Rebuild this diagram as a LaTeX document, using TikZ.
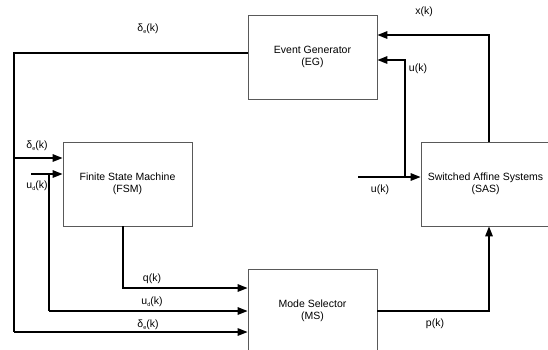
\documentclass[tikz,border=0pt]{standalone}
\usepackage{fontspec}
\setmainfont{Liberation Sans}
\usetikzlibrary{arrows.meta}
\newcommand{\tinysub}[1]{\raisebox{-1.8pt}{\fontsize{5.5}{5.5}\selectfont #1}}
\begin{document}
\begin{tikzpicture}[x=1pt,y=-1pt,
  blk/.style={draw=black!65,line width=0.8pt,minimum width=129pt,minimum height=84pt,align=center,font=\fontsize{10.5}{12.5}\selectfont,inner sep=0pt},
  conn/.style={line width=1.5pt},
  arr/.style={conn,-{Triangle[length=10pt,width=7.5pt]}},
  lbl/.style={font=\fontsize{10.5}{12.5}\selectfont,inner sep=0pt}]
\useasboundingbox (0,0) rectangle (548,349);
\node[blk] (eg) at (312.5,57) {Event Generator\\(EG)};
\node[blk] (fsm) at (127.5,184) {Finite State Machine\\(FSM)};
\node[blk] (ms) at (312.5,311) {Mode Selector\\(MS)};
\node[blk] (sas) at (485.5,184) {Switched Affine Systems\\(SAS)};
% coordinates
\coordinate (dl) at (14,53);
\coordinate (db) at (14,158);
\coordinate (dm) at (14,332);
\coordinate (ui) at (31,174);
\coordinate (ub) at (49,174);
\coordinate (um) at (49,311);
\coordinate (qc) at (123,288);
\coordinate (xc) at (489,35);
\coordinate (uin) at (358,177);
\coordinate (uj) at (405,177);
\coordinate (ut) at (405,60);
\coordinate (pc) at (489,311);
% delta_e
\draw[conn] (eg.west |- dl) -- (dl) -- (dm);
\draw[arr] (dm) -- (ms.west |- dm);
\draw[arr] (db) -- (fsm.west |- db);
% u_d
\draw[arr] (ui) -- (fsm.west |- ui);
\draw[conn] (ub) -- (um);
\draw[arr] (um) -- (ms.west |- um);
% q
\draw[arr] (fsm.south -| qc) -- (qc) -- (ms.west |- qc);
% x
\draw[arr] (sas.north -| xc) -- (xc) -- (eg.east |- xc);
% u
\draw[arr] (uin) -- (sas.west |- uin);
\draw[arr] (uj) -- (ut) -- (eg.east |- ut);
% p
\draw[arr] (ms.east |- pc) -- (pc) -- (sas.south -| pc);
% labels
\node[lbl] (l1) at (148,29) {δ\tinysub{e}(k)};
\node[lbl] (l2) at (424,12) {x(k)};
\node[lbl] (l3) at (418,69) {u(k)};
\node[lbl] (l4) at (37,146) {δ\tinysub{e}(k)};
\node[lbl] (l5) at (37,186) {u\tinysub{d}(k)};
\node[lbl] (l6) at (380,190) {u(k)};
\node[lbl] (l7) at (152,279) {q(k)};
\node[lbl] (l8) at (152,302) {u\tinysub{d}(k)};
\node[lbl] (l9) at (148,325) {δ\tinysub{e}(k)};
\node[lbl] (l10) at (435,324) {p(k)};
\end{tikzpicture}
\end{document}
